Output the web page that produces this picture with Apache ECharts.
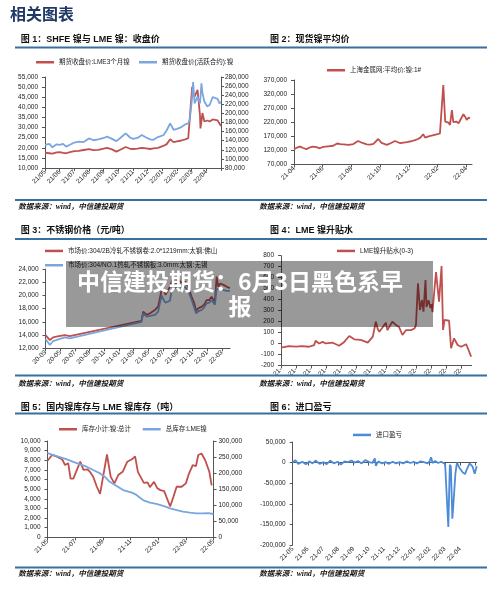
<!DOCTYPE html>
<html><head><meta charset="utf-8">
<script src="https://cdn.jsdelivr.net/npm/echarts@6/dist/echarts.min.js"></script>
<style>html,body{margin:0;padding:0;background:#fff}#c{width:500px;height:589px}</style>
</head><body><div id="c"></div>
<script>
// ---------- Chart 1: SHFE / LME nickel close ----------
const c1Base = [2021, 5];
const c1Labels = ['21/05','21/06','21/07','21/08','21/09','21/10','21/11','21/12','22/01','22/02','22/03','22/04'];
const c1Dates = ['2021-05-01','2021-05-10','2021-05-16','2021-05-25','2021-06-01','2021-06-08','2021-06-14','2021-06-22','2021-07-01','2021-07-10','2021-07-20','2021-08-01','2021-08-10','2021-08-20','2021-09-01','2021-09-08','2021-09-18','2021-09-27','2021-10-05','2021-10-16','2021-10-25','2021-11-01','2021-11-10','2021-11-19','2021-11-28','2021-12-06','2021-12-13','2021-12-22','2022-01-03','2022-01-10','2022-01-17','2022-01-24','2022-02-01','2022-02-10','2022-02-18','2022-02-24','2022-02-27','2022-03-02','2022-03-04','2022-03-07','2022-03-13','2022-03-18','2022-03-19','2022-03-21','2022-03-23','2022-03-27','2022-04-03','2022-04-08','2022-04-14','2022-04-17','2022-04-24','2022-04-28','2022-05-01'];
const c1Lme = [17600,17300,17100,17700,17900,17500,17300,17900,18300,18500,18900,19300,18800,19000,19600,19900,19200,18100,19000,20400,19500,19400,19600,20000,19700,19400,19700,20000,20900,21800,24200,22800,23200,23600,24200,24700,25500,50200,47000,45300,48600,36000,29600,33000,37200,33000,33500,33000,34000,33600,33500,32800,30800];
const c1Shfe = [131000,133000,125500,132000,131000,133000,127000,131000,136000,138000,137000,145000,141000,143000,146000,149000,144000,139000,146000,156000,147000,144000,146000,152500,147000,143000,142000,148000,152000,163000,178000,164000,166000,170000,176000,178000,185000,235000,269000,222000,237000,222000,235000,266000,245000,226000,215000,219000,236000,240000,232000,222000,225000];

// ---------- Chart 2: spot nickel average ----------
const c2Base = [2021, 4];
const c2Labels = ['21-04','21-06','21-08','21-10','21-12','22-02','22-04'];
const c2Dates = ['2021-04-01','2021-04-08','2021-04-14','2021-04-20','2021-04-27','2021-05-04','2021-05-11','2021-05-18','2021-05-25','2021-06-02','2021-06-12','2021-06-23','2021-07-01','2021-07-08','2021-07-14','2021-07-25','2021-08-05','2021-08-15','2021-08-24','2021-09-03','2021-09-10','2021-09-17','2021-09-27','2021-10-04','2021-10-15','2021-10-24','2021-11-02','2021-11-13','2021-11-20','2021-11-27','2021-12-06','2021-12-14','2021-12-20','2021-12-25','2022-01-01','2022-01-05','2022-01-14','2022-01-23','2022-02-01','2022-02-06','2022-02-10','2022-02-13','2022-02-17','2022-02-21','2022-02-24','2022-02-27','2022-03-01','2022-03-04','2022-03-10','2022-03-15','2022-03-18','2022-03-25','2022-03-29','2022-04-02','2022-04-06','2022-04-09'];
const c2Spot = [124000,130000,133000,128000,124000,130000,133000,131000,127000,132000,134000,136000,144000,142000,141000,139000,142000,153000,146000,141000,140000,143000,160000,146000,139000,146000,153000,145000,147000,149000,152000,156000,160000,165000,177000,165000,170000,174000,177000,180000,186000,352000,222000,226000,218000,210000,263000,220000,222000,216000,210000,248000,238000,228000,236000,234000];

// ---------- Chart 3: stainless steel prices ----------
const c3Base = [2020, 3];
const c3Labels = ['20-03','20-05','20-07','20-09','20-11','21-01','21-03','21-05','21-07','21-09','21-11','22-01','22-03'];
const c3Dates = ['2020-03-01','2020-03-19','2020-04-02','2020-04-20','2020-05-20','2020-06-10','2021-04-03','2021-04-10','2021-04-24','2021-05-08','2021-05-28','2021-06-11','2021-06-25','2021-07-04','2021-07-11','2021-07-19','2021-07-29','2021-08-09','2021-08-17','2021-08-25','2021-09-04','2021-09-17','2021-10-01','2021-10-14','2021-10-28','2021-11-09','2021-11-16','2021-11-25','2021-12-09','2021-12-19','2021-12-29','2022-01-10','2022-01-19','2022-02-03','2022-02-10','2022-02-17','2022-02-25','2022-03-08','2022-03-22','2022-04-04'];
const c3Cold = [14000,13250,13650,13800,14000,13850,16150,17550,17050,17300,17800,18300,20800,20900,20100,20000,21300,22350,22600,21850,22400,21900,22100,21300,19800,18800,17700,18050,18300,18600,19300,19300,19800,19050,22850,21300,21800,21600,21300,21100];
const c3Hot = [13400,12500,13100,13300,13650,13500,16000,17300,16800,16900,17050,17550,20000,19300,18900,18700,19200,21100,21700,21000,21500,21200,21300,20700,19300,18100,17300,17600,17800,18200,18800,18900,19300,18600,21000,20700,20900,20800,20700,20700];

// ---------- Chart 4: LME nickel spread ----------
const c4Base = [2021, 4];
const c4Labels = ['21-','21-','21-','21-','21-','21-','21-','21-','21-','22-','22-','22-','22-'];
const c4Dates = ['2021-04-01','2021-04-17','2021-05-01','2021-05-13','2021-05-27','2021-06-07','2021-06-10','2021-06-17','2021-06-24','2021-06-30','2021-07-14','2021-07-27','2021-08-07','2021-08-17','2021-08-27','2021-09-10','2021-09-24','2021-10-04','2021-10-10','2021-10-14','2021-10-17','2021-10-24','2021-10-30','2021-11-03','2021-11-08','2021-11-13','2021-11-20','2021-11-26','2021-12-03','2021-12-10','2021-12-20','2021-12-27','2021-12-30','2022-01-04','2022-01-08','2022-01-12','2022-01-15','2022-01-19','2022-01-21','2022-01-25','2022-01-29','2022-02-01','2022-02-03','2022-02-07','2022-02-10','2022-02-16','2022-02-21','2022-02-24','2022-02-27','2022-03-06','2022-03-10','2022-03-16','2022-03-23','2022-03-30','2022-04-10','2022-04-13','2022-04-20'];
const c4Spread = [-39,-25,-28,-24,-30,-15,25,0,14,0,7,-21,14,68,38,32,7,62,198,130,107,150,189,121,160,198,169,153,77,121,121,136,169,549,305,396,290,578,332,395,322,358,285,500,650,381,705,123,214,207,-44,47,-14,-30,-7,-39,-120];

// ---------- Chart 5: inventories ----------
const c5Base = [2021, 5];
const c5Labels = ['21-05','21-07','21-09','21-11','22-01','22-03','22-05'];
const c5DomDates = ['2021-05-01','2021-05-11','2021-05-20','2021-05-29','2021-06-04','2021-06-09','2021-06-16','2021-06-21','2021-06-27','2021-07-01','2021-07-12','2021-07-19','2021-07-28','2021-08-03','2021-08-10','2021-08-18','2021-08-25','2021-09-10','2021-09-18','2021-09-26','2021-10-05','2021-10-14','2021-10-24','2021-11-04','2021-11-11','2021-11-17','2021-11-22','2021-11-30','2021-12-08','2021-12-13','2021-12-22','2021-12-29','2022-01-06','2022-01-14','2022-01-27','2022-02-04','2022-02-11','2022-02-22','2022-03-01','2022-03-08','2022-03-16','2022-03-23','2022-03-28','2022-04-05','2022-04-13','2022-04-22','2022-04-27'];
const c5Dom = [7950,8550,8400,8200,8000,7500,7700,6100,6100,6300,7850,7000,7050,6800,6300,5250,4500,8600,6300,5600,6500,6800,7850,8100,8400,6800,6350,5650,5700,5200,5750,5100,4900,4800,3200,4200,5250,5250,5600,6650,7500,7400,8550,8700,8000,6800,5400];
const c5LmeDates = ['2021-05-01','2021-05-21','2021-06-13','2021-06-27','2021-07-12','2021-07-26','2021-08-10','2021-08-25','2021-09-05','2021-09-16','2021-10-01','2021-10-15','2021-11-04','2021-11-14','2021-11-28','2021-12-13','2021-12-27','2022-01-12','2022-01-27','2022-02-11','2022-02-25','2022-03-10','2022-03-24','2022-04-08','2022-04-20','2022-05-01'];
const c5Lme = [262000,253000,243000,235000,227000,220000,209600,199000,188800,173000,160000,147000,139000,132000,116000,108000,104000,97600,90000,85000,80000,76700,74700,74700,75500,72600];

// ---------- Chart 6: import profit ----------
const c6Base = [2021, 5];
const c6Labels = ['21-05','21-06','21-07','21-08','21-09','21-10','21-11','21-12','22-01','22-02','22-03','22-04'];
const c6Dates = ['2021-05-01','2021-05-06','2021-05-12','2021-05-20','2021-05-27','2021-06-04','2021-06-10','2021-06-16','2021-06-24','2021-07-02','2021-07-08','2021-07-15','2021-07-22','2021-07-30','2021-08-06','2021-08-13','2021-08-20','2021-08-27','2021-09-03','2021-09-10','2021-09-17','2021-09-24','2021-10-01','2021-10-08','2021-10-13','2021-10-15','2021-10-20','2021-10-27','2021-11-04','2021-11-11','2021-11-18','2021-11-25','2021-12-02','2021-12-09','2021-12-16','2021-12-23','2021-12-30','2022-01-06','2022-01-13','2022-01-20','2022-01-27','2022-02-01','2022-02-04','2022-02-07','2022-02-12','2022-02-18','2022-02-24','2022-03-01','2022-03-02','2022-03-04','2022-03-08','2022-03-11','2022-03-13','2022-03-16','2022-03-19','2022-03-22','2022-03-25','2022-04-01','2022-04-06','2022-04-11','2022-04-15','2022-04-20','2022-04-26','2022-04-30','2022-05-04'];
const c6Profit = [0,6000,-3000,2000,-4000,3000,-2000,5000,-3000,1000,-4000,5000,-2000,2000,-5000,3000,1000,5000,0,4000,-2000,6000,2000,-1000,10000,-8000,3000,-2000,1000,-3000,2000,-2000,1000,-2000,3000,-1000,2000,-2000,3000,1000,-2000,3000,13000,-1000,4000,-1000,2000,-3000,-10000,-60000,-156000,-5000,-10000,-136000,-83000,-27000,0,-15000,-23000,-28000,-15000,-2000,-10000,-27000,-9000];

// ---------- Texts ----------
const pageTitle = '相关图表';
const chartTitles = ['图 1：SHFE 镍与 LME 镍：收盘价','图 2：现货镍平均价','图 3：不锈钢价格（元/吨）','图 4：LME 镍升贴水','图 5：国内镍库存与 LME 镍库存（吨）','图 6：进口盈亏'];
const sourceText = '数据来源：wind，中信建投期货';
const overlayText = '中信建投期货：6月3日黑色系早\n报';

// ---------- helpers ----------
const SANS = '"Liberation Sans","Noto Sans CJK SC",sans-serif';
const CJK = '"Noto Sans CJK SC","Liberation Sans",sans-serif';
const AX = '#555';
const RED = '#c0504d', BLUE = '#7aa6df', BLUE6 = '#4b8bd9';
function mIdx(base, d) { const p = d.split('-').map(Number); return (p[0]-base[0])*12 + (p[1]-base[1]) + (p[2]-1)/30; }
function pairs(base, dates, vals) { return dates.map((d, i) => [mIdx(base, d), vals[i]]); }
const fmt = v => Number(v).toLocaleString('en-US');
const range = (n, step) => Array.from({length: n}, (_, i) => i * step);

function yAx(gi, min, max, interval, pos, margin) {
  return { type: 'value', gridIndex: gi, min, max, interval, position: pos || 'left',
    axisLine: { show: true, lineStyle: { color: AX, width: 1 } },
    axisTick: { show: true, inside: false, length: 3, lineStyle: { color: AX } },
    splitLine: { show: false },
    axisLabel: { fontSize: 6.5, color: '#222', fontFamily: SANS, margin: margin || 7, formatter: fmt } };
}
function xAx(gi, max, tickVals, labelVals, labels, step, onZero) {
  return { type: 'value', gridIndex: gi, min: 0, max,
    axisLine: { show: true, onZero: !!onZero, lineStyle: { color: AX, width: 1 } },
    axisTick: { show: true, length: 3, customValues: tickVals, lineStyle: { color: AX } },
    splitLine: { show: false },
    axisLabel: { customValues: labelVals, rotate: 45, margin: 3, fontSize: 6.5, color: '#222', fontFamily: SANS,
      formatter: v => { const i = Math.round(v / step); return labels[i] !== undefined ? labels[i] : ''; } } };
}
function line(name, xi, yi, data, color) {
  return { type: 'line', name, xAxisIndex: xi, yAxisIndex: yi, data, showSymbol: false, symbol: 'none',
    lineStyle: { color, width: 1.8 }, itemStyle: { color }, animation: false, z: 3 };
}
function leg(name, left, cy) {
  return { data: [name], left, top: cy - 4, padding: 0, itemGap: 0, icon: 'rect', itemWidth: 18, itemHeight: 2.5,
    textStyle: { fontSize: 6.5, color: '#222', fontFamily: SANS }, selectedMode: false };
}

const names = {
  c1a: '期货收盘价:LME3个月镍', c1b: '期货收盘价(活跃合约):镍',
  c2: '上海金属网:平均价:镍:1#',
  c3a: '市场价:304/2B冷轧不锈钢卷:2.0*1219mm:太钢:佛山', c3b: '市场价:304/NO.1热轧不锈钢板:3.0mm:太钢:无锡',
  c4: 'LME镍升贴水(0-3)',
  c5a: '库存小计:镍:总计', c5b: '总库存:LME镍',
  c6: '进口盈亏'
};

const graphics = [];
graphics.push({ type: 'text', x: 10, y: 14, z: 50, style: { text: pageTitle, fill: '#1f3864', fontSize: 16, fontWeight: 'bold', fontFamily: CJK, verticalAlign: 'middle', textVerticalAlign: 'middle' } });
const titlePos = [[20.7, 39.5], [270, 40], [20.7, 231], [270, 231], [20.7, 407.5], [270, 407.5]];
chartTitles.forEach((t, i) => graphics.push({ type: 'text', x: titlePos[i][0], y: titlePos[i][1], z: 50,
  style: { text: t, fill: '#111', fontSize: 9, fontWeight: 'bold', fontFamily: SANS, verticalAlign: 'middle', textVerticalAlign: 'middle' } }));
[47.5, 200, 239, 375.5, 413.5, 567.5].forEach(y => graphics.push({ type: 'line', z: 50,
  shape: { x1: 15, y1: y, x2: 487, y2: y }, style: { stroke: '#3b6fa0', lineWidth: 1.8 } }));
[[18.3, 207.3], [259.3, 207.3], [18.3, 384], [259.3, 384], [18.3, 574], [259.3, 574]].forEach(p => graphics.push({ type: 'text', x: p[0], y: p[1], z: 50,
  style: { text: sourceText, fill: '#111', fontSize: 7.5, fontWeight: 'bold', fontStyle: 'italic', fontFamily: '"Liberation Serif","Noto Sans CJK SC",serif', verticalAlign: 'middle', textVerticalAlign: 'middle' } }));
graphics.push({ type: 'rect', z: 200, shape: { x: 66, y: 261, width: 367, height: 66 }, style: { fill: 'rgba(0,0,0,0.4)' } });
graphics.push({ type: 'text', x: 240, y: 293.5, z: 201, style: { text: overlayText, fill: '#fff', fontSize: 23, fontWeight: 'bold', fontFamily: CJK,
  align: 'center', textAlign: 'center', verticalAlign: 'middle', textVerticalAlign: 'middle', lineHeight: 25 } });

const G = (left, top, width, height) => ({ left, top, width, height, containLabel: false, outerBoundsMode: 'none' });
const option = {
  backgroundColor: '#fff',
  animation: false,
  grid: [G(45, 77, 176, 91), G(294, 80, 178, 84.3), G(45.5, 269, 184.5, 79.3), G(281, 255.7, 190.7, 109.7), G(47.5, 441, 166, 96.3), G(292.7, 442, 184, 103)],
  xAxis: [
    xAx(0, 12, range(13, 1), range(12, 1), c1Labels, 1, false),
    xAx(1, 12.4, range(7, 2), range(7, 2), c2Labels, 2, false),
    xAx(2, 25.12, range(13, 2), range(13, 2), c3Labels, 2, false),
    xAx(3, 12.67, range(13, 1), range(13, 1), c4Labels, 1, false),
    xAx(4, 12, range(7, 2), range(7, 2), c5Labels, 2, false),
    xAx(5, 12.1, range(13, 1), range(12, 1), c6Labels, 1, true)
  ],
  yAxis: [
    yAx(0, 10000, 55000, 5000, 'left'),
    yAx(0, 80000, 280000, 20000, 'right', 4),
    yAx(1, 70000, 370000, 50000, 'left'),
    yAx(2, 12000, 24000, 2000, 'left'),
    yAx(3, -200, 800, 100, 'left'),
    yAx(4, 0, 10000, 1000, 'left'),
    yAx(4, 0, 300000, 50000, 'right', 5),
    yAx(5, -200000, 50000, 50000, 'left')
  ],
  legend: [
    leg(names.c1a, 36, 63), leg(names.c1b, 139, 63),
    leg(names.c2, 327, 71),
    leg(names.c3a, 45, 251.7), leg(names.c3b, 45, 266),
    leg(names.c4, 337, 251.7),
    leg(names.c5a, 59, 430), leg(names.c5b, 142.7, 430),
    leg(names.c6, 353, 435.7)
  ],
  series: [
    line(names.c1a, 0, 0, pairs(c1Base, c1Dates, c1Lme), RED),
    line(names.c1b, 0, 1, pairs(c1Base, c1Dates, c1Shfe), BLUE),
    line(names.c2, 1, 2, pairs(c2Base, c2Dates, c2Spot), RED),
    line(names.c3a, 2, 3, pairs(c3Base, c3Dates, c3Cold), RED),
    line(names.c3b, 2, 3, pairs(c3Base, c3Dates, c3Hot), BLUE),
    line(names.c4, 3, 4, pairs(c4Base, c4Dates, c4Spread), RED),
    line(names.c5a, 4, 5, pairs(c5Base, c5DomDates, c5Dom), RED),
    line(names.c5b, 4, 6, pairs(c5Base, c5LmeDates, c5Lme), BLUE),
    line(names.c6, 5, 7, pairs(c6Base, c6Dates, c6Profit), BLUE6)
  ],
  graphic: { elements: graphics }
};
const chart = echarts.init(document.getElementById('c'), null, { renderer: 'canvas' });
chart.setOption(option);
</script></body></html>
